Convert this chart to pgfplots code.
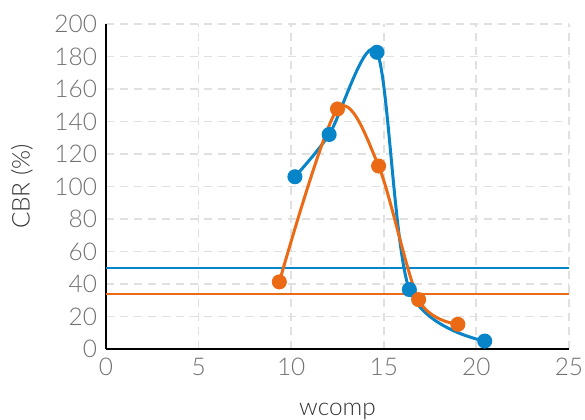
\documentclass[border=0pt]{standalone}
\usepackage{pgfplots}
\pgfplotsset{compat=1.18}
\usepackage{fontspec}
\setmainfont{Lato}[UprightFont={* Light}]
\definecolor{cblue}{RGB}{8,132,200}
\definecolor{corange}{RGB}{234,106,22}
\definecolor{gridc}{RGB}{224,224,224}
\definecolor{tickc}{RGB}{112,112,112}
\begin{document}
\begin{tikzpicture}
\begin{axis}[
  scale only axis,
  width=231.5pt, height=162.5pt,
  xmin=0, xmax=25, ymin=0, ymax=200,
  xtick={0,5,10,15,20,25},
  ytick={0,20,...,200},
  axis x line*=bottom, axis y line*=left,
  axis line style={black, line width=1.2pt, -},
  major tick length=0pt,
  grid=major,
  major grid style={gridc, line width=0.9pt, dash pattern=on 4pt off 3pt},
  tick label style={font=\fontsize{12.2}{14}\selectfont, text=tickc},
  /pgf/number format/assume math mode=true,
  xticklabel style={yshift=-1pt},
  yticklabel style={xshift=-1pt},
  xlabel={wcomp}, ylabel={CBR (\%)},
  label style={font=\fontsize{12.2}{14}\selectfont, text=black!80},
  xlabel style={yshift=-7pt},
  ylabel style={yshift=4pt},
  clip=false,
]
\addplot[cblue, line width=0.75pt] coordinates {(0,50) (25,50)};
\addplot[corange, line width=0.75pt] coordinates {(0,34) (25,34)};
\addplot[cblue, line width=1.5pt, smooth, mark=*, mark size=3pt, mark options={fill=cblue, draw=cblue}]
  coordinates {(10.2,106) (12.05,132) (14.63,182.6) (16.38,36.6) (20.45,4.9)};
\addplot[corange, line width=1.5pt, smooth, mark=*, mark size=3pt, mark options={fill=corange, draw=corange}]
  coordinates {(9.36,41.3) (12.5,147.7) (14.72,112.6) (16.88,30.4) (19.0,15.2)};
\coordinate (bl) at (rel axis cs:0,0);
\coordinate (tr) at (rel axis cs:1,1);
\end{axis}
\pgfresetboundingbox
\path ([shift={(-53pt,-35pt)}]bl) rectangle ([shift={(8pt,12pt)}]tr);
\end{tikzpicture}
\end{document}
